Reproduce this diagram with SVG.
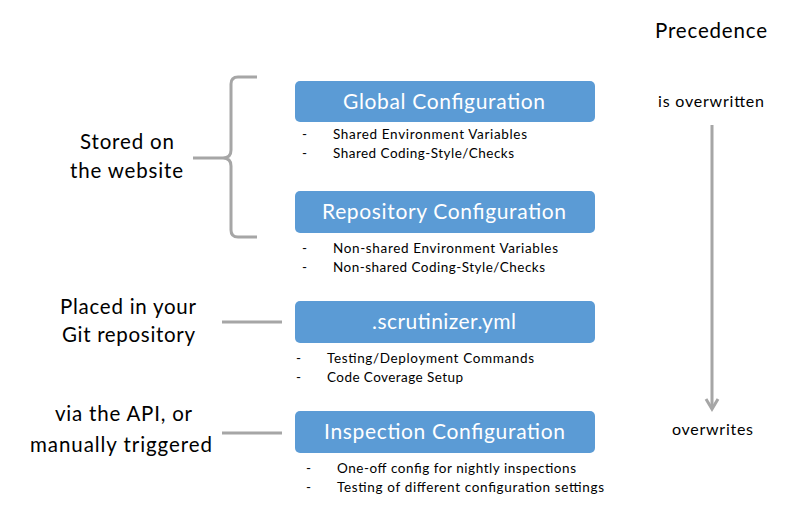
<svg xmlns="http://www.w3.org/2000/svg" width="805" height="518" viewBox="0 0 805 518">
<style>
.box{fill:#5B9BD5;}
.bt{font-family:Lato,"Liberation Sans",sans-serif;font-size:21px;fill:#FFFFFF;}
.li{font-family:Lato,"Liberation Sans",sans-serif;font-size:13.5px;fill:#000000;}
.lbl{font-family:Lato,"Liberation Sans",sans-serif;font-size:20.5px;fill:#000000;}
.sm{font-family:Lato,"Liberation Sans",sans-serif;font-size:16px;fill:#000000;}
.con{fill:none;stroke:#A6A6A6;stroke-width:3;}
</style>
<rect width="805" height="518" fill="#FFFFFF"/>
<g id="connectors">
<path class="con" d="M257,77 H238 Q231,77 231,84 V150 Q231,158 223,158 H193 M223,158 Q231,158 231,166 V230 Q231,237 238,237 H257"/>
<line class="con" x1="222" y1="322" x2="282" y2="322"/>
<line class="con" x1="222" y1="433" x2="282" y2="433"/>
<line class="con" x1="712" y1="125" x2="712" y2="409"/>
<polyline class="con" points="706,399 712,409 718,399"/>
</g>
<g id="global">
<rect class="box" x="295" y="81" width="300" height="41" rx="5"/>
<text class="bt" x="343" y="109" textLength="202">Global Configuration</text>
<text class="li" x="302" y="139">-</text><text class="li" x="333" y="139" textLength="194">Shared Environment Variables</text>
<text class="li" x="302" y="158">-</text><text class="li" x="333" y="158" textLength="181">Shared Coding-Style/Checks</text>
</g>
<g id="repository">
<rect class="box" x="295" y="191" width="300" height="42" rx="5"/>
<text class="bt" x="322" y="219" textLength="244">Repository Configuration</text>
<text class="li" x="302" y="253">-</text><text class="li" x="333" y="253" textLength="225">Non-shared Environment Variables</text>
<text class="li" x="302" y="272">-</text><text class="li" x="333" y="272" textLength="212">Non-shared Coding-Style/Checks</text>
</g>
<g id="scrutinizer">
<rect class="box" x="295" y="301" width="300" height="42" rx="5"/>
<text class="bt" x="372" y="329" textLength="144">.scrutinizer.yml</text>
<text class="li" x="296" y="363">-</text><text class="li" x="327" y="363" textLength="207">Testing/Deployment Commands</text>
<text class="li" x="296" y="382">-</text><text class="li" x="327" y="382" textLength="136">Code Coverage Setup</text>
</g>
<g id="inspection">
<rect class="box" x="295" y="411" width="300" height="42" rx="5"/>
<text class="bt" x="324" y="439" textLength="241">Inspection Configuration</text>
<text class="li" x="306" y="473">-</text><text class="li" x="337" y="473" textLength="239">One-off config for nightly inspections</text>
<text class="li" x="306" y="492">-</text><text class="li" x="337" y="492" textLength="267">Testing of different configuration settings</text>
</g>
<g id="labels">
<text class="lbl" x="80" y="149" textLength="94">Stored on</text>
<text class="lbl" x="70" y="178" textLength="113">the website</text>
<text class="lbl" x="60" y="314" textLength="136">Placed in your</text>
<text class="lbl" x="62" y="342" textLength="133">Git repository</text>
<text class="lbl" x="55" y="421" textLength="137">via the API, or</text>
<text class="lbl" x="30" y="452" textLength="182">manually triggered</text>
<text class="lbl" x="655" y="38" textLength="112">Precedence</text>
<text class="sm" x="658" y="107" textLength="106">is overwritten</text>
<text class="sm" x="672" y="435" textLength="81">overwrites</text>
</g>
</svg>
